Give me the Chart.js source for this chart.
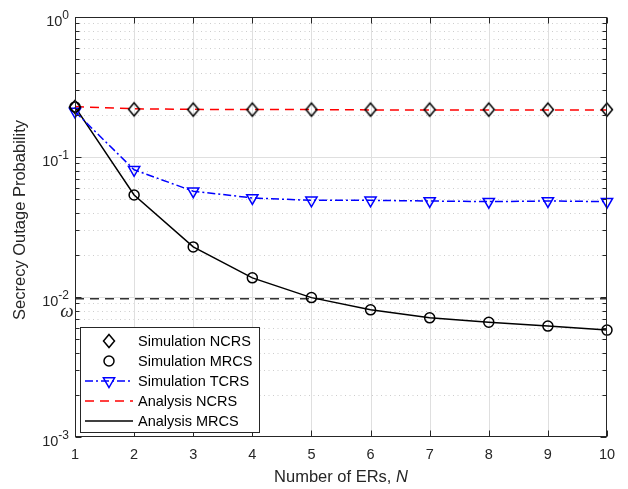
<!DOCTYPE html>
<html lang="en">
<head>
<meta charset="utf-8" />
<title>Secrecy outage probability vs number of ERs</title>
<style>
  * { margin: 0; padding: 0; }
  body { background: #fff; }
  canvas { display: block; }
</style>
</head>
<body>
<canvas id="myChart" width="628" height="489"></canvas>

<script src="https://cdn.jsdelivr.net/npm/chart.js@4.4.1/dist/chart.umd.min.js"></script>

<script>
// values
const numERs = [1, 2, 3, 4, 5, 6, 7, 8, 9, 10];
const simNCRS = [0.228, 0.219, 0.218, 0.218, 0.218, 0.218, 0.218, 0.218, 0.218, 0.218];
const simMRCS = [0.228, 0.0535, 0.0228, 0.0137, 0.0099, 0.0081, 0.0071, 0.0066, 0.0062, 0.0058];
const simTCRS = [0.211, 0.081, 0.057, 0.051, 0.049, 0.049, 0.0485, 0.048, 0.0485, 0.048];
const anaNCRS = [0.229, 0.221, 0.219, 0.218, 0.218, 0.217, 0.217, 0.217, 0.217, 0.217];
const anaMRCS = [0.228, 0.0535, 0.0228, 0.0137, 0.0099, 0.0081, 0.0071, 0.0066, 0.0062, 0.0058];
const omegaLevel = 0.0097;
const yDecades = [-3, -2, -1, 0];
const xTicks = [1, 2, 3, 4, 5, 6, 7, 8, 9, 10];

const INK = "#262626";
const FONT = "'Liberation Sans', Arial, sans-serif";

const pts = (ys) => ys.map((v, i) => ({ x: numERs[i], y: v }));

// MATLAB-like diamond marker (a bit taller than wide)
function makeDiamond() {
  const c = document.createElement("canvas");
  c.width = 14;
  c.height = 18;
  const g = c.getContext("2d");
  g.strokeStyle = "#000";
  g.lineWidth = 1.5;
  g.beginPath();
  g.moveTo(7, 2.5);
  g.lineTo(12.5, 9);
  g.lineTo(7, 15.5);
  g.lineTo(1.5, 9);
  g.closePath();
  g.stroke();
  return c;
}
const diamond = makeDiamond();

const data = {
  datasets: [
    {
      label: "Simulation NCRS",
      data: pts(simNCRS),
      showLine: false,
      pointStyle: diamond,
      pointRadius: 6,
      borderColor: "#000",
      backgroundColor: "rgba(0,0,0,0)",
    },
    {
      label: "Simulation MRCS",
      data: pts(simMRCS),
      showLine: false,
      pointStyle: "circle",
      pointRadius: 5,
      pointBorderWidth: 1.5,
      borderColor: "#000",
      backgroundColor: "rgba(0,0,0,0)",
    },
    {
      label: "Simulation TCRS",
      data: pts(simTCRS),
      borderColor: "#0000ff",
      borderWidth: 1.5,
      borderDash: [8, 3, 2, 3],
      pointStyle: "triangle",
      pointRotation: 180,
      pointRadius: 6.5,
      pointBorderWidth: 1.5,
      pointBorderColor: "#0000ff",
      backgroundColor: "rgba(0,0,0,0)",
    },
    {
      label: "Analysis NCRS",
      data: pts(anaNCRS),
      borderColor: "#ff0000",
      borderWidth: 1.5,
      borderDash: [9, 6],
      pointRadius: 0,
    },
    {
      label: "Analysis MRCS",
      data: pts(anaMRCS),
      borderColor: "#000",
      borderWidth: 1.5,
      pointRadius: 0,
    },
    {
      label: "omega",
      data: [{ x: numERs[0], y: omegaLevel }, { x: numERs[numERs.length - 1], y: omegaLevel }],
      borderColor: "#333",
      borderWidth: 1.5,
      borderDash: [9, 6],
      pointRadius: 0,
    },
  ],
};

const matlabAxes = {
  id: "matlabAxes",
  beforeDatasetsDraw(chart) {
    const { ctx, chartArea: a, scales: { x, y } } = chart;
    ctx.save();
    ctx.lineWidth = 1;

    // minor y grid, dotted
    ctx.strokeStyle = "#cdcdcd";
    ctx.setLineDash([1, 3.5]);
    for (let k = 0; k < yDecades.length - 1; k++) {
      for (let m = 2; m <= 9; m++) {
        const py = Math.round(y.getPixelForValue(m * Math.pow(10, yDecades[k]))) + 0.5;
        ctx.beginPath();
        ctx.moveTo(a.left, py);
        ctx.lineTo(a.right, py);
        ctx.stroke();
      }
    }

    // major grid, solid
    ctx.setLineDash([]);
    ctx.strokeStyle = "#dfdfdf";
    yDecades.slice(1, -1).forEach((d) => {
      const py = Math.round(y.getPixelForValue(Math.pow(10, d))) + 0.5;
      ctx.beginPath();
      ctx.moveTo(a.left, py);
      ctx.lineTo(a.right, py);
      ctx.stroke();
    });
    xTicks.slice(1, -1).forEach((t) => {
      const px = Math.round(x.getPixelForValue(t)) + 0.5;
      ctx.beginPath();
      ctx.moveTo(px, a.top);
      ctx.lineTo(px, a.bottom);
      ctx.stroke();
    });
    ctx.restore();
  },

  afterDatasetsDraw(chart) {
    const { ctx, chartArea: a, scales: { x, y } } = chart;
    ctx.save();
    ctx.strokeStyle = INK;
    ctx.fillStyle = INK;
    ctx.lineWidth = 1;

    const L = Math.round(a.left) + 0.5;
    const R = Math.round(a.right) - 0.5;
    const T = Math.round(a.top) + 0.5;
    const B = Math.round(a.bottom) - 0.5;

    // box
    ctx.strokeRect(L, T, R - L, B - T);

    // x ticks, inside, top and bottom
    ctx.beginPath();
    xTicks.forEach((t) => {
      const px = Math.round(x.getPixelForValue(t)) + 0.5;
      ctx.moveTo(px, B);
      ctx.lineTo(px, B - 6);
      ctx.moveTo(px, T);
      ctx.lineTo(px, T + 6);
    });
    // y ticks, major and minor, both sides
    yDecades.forEach((d, k) => {
      const py = Math.round(y.getPixelForValue(Math.pow(10, d))) + 0.5;
      ctx.moveTo(L, py);
      ctx.lineTo(L + 6, py);
      ctx.moveTo(R, py);
      ctx.lineTo(R - 6, py);
      if (k < yDecades.length - 1) {
        for (let m = 2; m <= 9; m++) {
          const pm = Math.round(y.getPixelForValue(m * Math.pow(10, d))) + 0.5;
          ctx.moveTo(L, pm);
          ctx.lineTo(L + 4, pm);
          ctx.moveTo(R, pm);
          ctx.lineTo(R - 4, pm);
        }
      }
    });
    ctx.stroke();

    // x tick labels
    ctx.font = "14.5px " + FONT;
    ctx.textAlign = "center";
    ctx.textBaseline = "middle";
    xTicks.forEach((t) => {
      ctx.fillText(String(t), x.getPixelForValue(t), a.bottom + 18);
    });

    // y tick labels as 10^k
    ctx.textAlign = "left";
    ctx.textBaseline = "alphabetic";
    yDecades.forEach((d) => {
      const py = y.getPixelForValue(Math.pow(10, d));
      ctx.font = "14.5px " + FONT;
      const wBase = ctx.measureText("10").width;
      ctx.font = "12px " + FONT;
      const sup = d === 0 ? "0" : "-" + Math.abs(d);
      const wSup = ctx.measureText(sup).width;
      const x0 = a.left - 6 - wBase - wSup;
      ctx.font = "14.5px " + FONT;
      ctx.fillText("10", x0, py + 9);
      ctx.font = "12px " + FONT;
      ctx.fillText(sup, x0 + wBase, py + 2);
    });

    // omega label next to threshold line
    ctx.font = "italic 19px 'Liberation Serif', 'DejaVu Serif', serif";
    ctx.textAlign = "center";
    ctx.textBaseline = "middle";
    ctx.fillText("\u03c9", a.left - 8, y.getPixelForValue(omegaLevel) + 13);

    // axis titles
    const t1 = "Number of ERs, ";
    ctx.font = "16.5px " + FONT;
    const w1 = ctx.measureText(t1).width;
    ctx.font = "italic 16.5px " + FONT;
    const w2 = ctx.measureText("N").width;
    const cx = (a.left + a.right) / 2;
    const sx = cx - (w1 + w2) / 2;
    ctx.textAlign = "left";
    ctx.textBaseline = "alphabetic";
    ctx.font = "16.5px " + FONT;
    ctx.fillText(t1, sx, a.bottom + 45);
    ctx.font = "italic 16.5px " + FONT;
    ctx.fillText("N", sx + w1, a.bottom + 45);

    ctx.save();
    ctx.translate(20, 220);
    ctx.rotate(-Math.PI / 2);
    ctx.font = "16.5px " + FONT;
    ctx.textAlign = "center";
    ctx.textBaseline = "middle";
    ctx.fillText("Secrecy Outage Probability", 0, 0);
    ctx.restore();

    // legend box
    const lx = 80, ly = 327, lw = 179, lh = 105;
    ctx.fillStyle = "#fff";
    ctx.fillRect(lx, ly, lw, lh);
    ctx.strokeStyle = INK;
    ctx.lineWidth = 1;
    ctx.strokeRect(lx + 0.5, ly + 0.5, lw, lh);

    ctx.font = "14.5px " + FONT;
    ctx.textAlign = "left";
    ctx.textBaseline = "middle";
    chart.data.datasets.slice(0, 5).forEach((ds, i) => {
      const ey = ly + 14 + i * 20;
      if (ds.showLine !== false) {
        ctx.save();
        ctx.strokeStyle = ds.borderColor;
        ctx.lineWidth = ds.borderWidth;
        ctx.setLineDash(ds.borderDash || []);
        ctx.beginPath();
        ctx.moveTo(lx + 5, ey);
        ctx.lineTo(lx + 53, ey);
        ctx.stroke();
        ctx.restore();
      }
      if (ds.pointRadius > 0) {
        ctx.save();
        ctx.strokeStyle = ds.pointBorderColor || ds.borderColor;
        ctx.fillStyle = "rgba(0,0,0,0)";
        ctx.lineWidth = ds.pointBorderWidth || 1.5;
        Chart.helpers.drawPoint(ctx, {
          pointStyle: ds.pointStyle,
          rotation: ds.pointRotation || 0,
          radius: ds.pointRadius,
          borderWidth: ds.pointBorderWidth || 1.5,
        }, lx + 29, ey);
        ctx.restore();
      }
      ctx.fillStyle = "#000";
      ctx.fillText(ds.label, lx + 58, ey + 1);
    });

    ctx.restore();
  },
};

const config = {
  type: "line",
  data: data,
  options: {
    responsive: false,
    animation: false,
    events: [],
    clip: false,
    layout: {
      padding: { left: 75, right: 21, top: 17, bottom: 52 },
    },
    elements: {
      line: { tension: 0, fill: false },
    },
    scales: {
      x: { type: "linear", min: 1, max: 10, display: false },
      y: { type: "logarithmic", min: 0.001, max: 1, display: false },
    },
    plugins: {
      legend: { display: false },
      tooltip: { enabled: false },
    },
  },
  plugins: [matlabAxes],
};

const myChart = new Chart(document.getElementById("myChart"), config);
</script>
</body>
</html>
